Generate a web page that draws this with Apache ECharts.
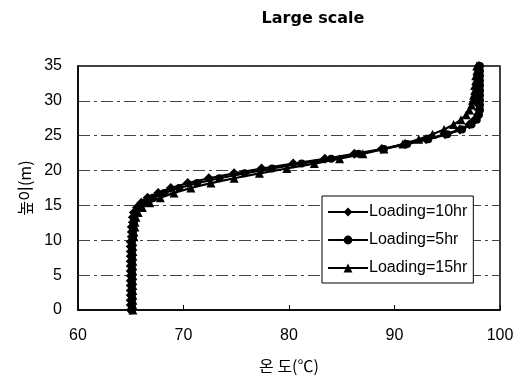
<!DOCTYPE html>
<html>
<head>
<meta charset="utf-8">
<script src="https://cdn.jsdelivr.net/npm/echarts@6/dist/echarts.min.js"></script>
<style>
  html, body { margin: 0; padding: 0; background: #fff; }
  #chart { width: 531px; height: 383px; }
</style>
</head>
<body>
<div id="chart"></div>
<script>
// 높이 (m)
const heights = [0, 0.7, 1.4, 2.1, 2.8, 3.5, 4.2, 4.9, 5.6, 6.3, 7, 7.7, 8.4, 9.1, 9.8, 10.5,
  11.2, 11.9, 12.6, 13.3, 14, 14.7, 15.4, 16.1, 16.8, 17.5, 18.2, 18.9, 19.6, 20.3, 21, 21.7,
  22.4, 23.1, 23.8, 24.5, 25.2, 25.9, 26.6, 27.3, 28, 28.7, 29.4, 30.1, 30.8, 31.5, 32.2, 32.9,
  33.6, 34.3, 35]

// 온도 (℃)
const temp10hr = [65.0, 65.0, 65.0, 65.0, 65.0, 65.0, 65.0, 65.0, 65.0, 65.0, 65.0, 65.0, 65.0, 65.0, 65.0, 65.1,
  65.1, 65.1, 65.2, 65.2, 65.3, 65.6, 66.0, 66.6, 67.6, 68.8, 70.4, 72.4, 74.8, 77.4, 80.4, 83.4,
  86.2, 88.8, 91.0, 93.0, 94.8, 96.2, 97.1, 97.6, 97.9, 98.0, 98.0, 98.0, 98.0, 98.0, 98.0, 98.0,
  98.0, 98.0, 98.0]
const temp5hr = [65.1, 65.1, 65.1, 65.1, 65.1, 65.1, 65.1, 65.1, 65.1, 65.1, 65.1, 65.1, 65.1, 65.1, 65.1, 65.2,
  65.2, 65.2, 65.3, 65.3, 65.5, 65.8, 66.3, 67.1, 68.2, 69.6, 71.3, 73.4, 75.8, 78.4, 81.2, 84.0,
  86.6, 89.0, 91.2, 93.2, 95.0, 96.4, 97.3, 97.8, 98.0, 98.1, 98.1, 98.1, 98.1, 98.1, 98.1, 98.1,
  98.1, 98.1, 98.1]
const temp15hr = [65.2, 65.2, 65.2, 65.2, 65.2, 65.2, 65.2, 65.2, 65.2, 65.2, 65.2, 65.2, 65.2, 65.2, 65.2, 65.3,
  65.3, 65.4, 65.4, 65.5, 65.7, 66.1, 66.8, 67.8, 69.1, 70.7, 72.6, 74.8, 77.2, 79.8, 82.4, 84.8,
  87.0, 89.0, 90.8, 92.3, 93.6, 94.7, 95.6, 96.3, 96.8, 97.1, 97.3, 97.4, 97.5, 97.6, 97.6, 97.7,
  97.7, 97.8, 97.8]

const seriesNames = ['Loading=10hr', 'Loading=5hr', 'Loading=15hr']
const xTicks = [60, 70, 80, 90, 100]
const yTicks = [0, 5, 10, 15, 20, 25, 30, 35]

const pairs = (temps) => temps.map((t, i) => [t, heights[i]])

const chart = echarts.init(document.getElementById('chart'))

const lineSeries = (name, data, symbol, size) => ({
  name,
  type: 'line',
  data: pairs(data),
  symbol,
  symbolSize: size,
  showSymbol: true,
  itemStyle: { color: '#000' },
  lineStyle: { color: '#000', width: 2.2 },
  animation: false
})

chart.setOption({
  backgroundColor: '#fff',
  title: {
    text: 'Large scale',
    left: 308,
    top: 6,
    textAlign: 'center',
    textStyle: { fontFamily: 'DejaVu Sans', fontWeight: 'bold', fontSize: 16, color: '#000' }
  },
  grid: {
    left: 78, right: 31, top: 66, bottom: 73,
    show: true, borderColor: '#000', borderWidth: 1.5, backgroundColor: '#fff'
  },
  legend: {
    orient: 'vertical',
    left: 322, top: 196,
    padding: [8, 6, 7, 5],
    itemGap: 12,
    itemWidth: 40,
    itemHeight: 11,
    backgroundColor: '#fff',
    borderColor: '#000',
    borderWidth: 1,
    borderRadius: 0,
    data: seriesNames.map((n) => ({ name: n, itemStyle: { borderWidth: 0 } })),
    textStyle: { fontFamily: 'Liberation Sans', fontSize: 16, color: '#000', padding: [0, 0, 0, -4] }
  },
  xAxis: {
    type: 'value',
    min: xTicks[0], max: xTicks[xTicks.length - 1], interval: 10,
    name: '온 도(℃)',
    nameLocation: 'middle',
    nameGap: 48,
    nameTextStyle: { fontFamily: 'Noto Sans CJK KR', fontSize: 16, color: '#000' },
    axisLine: { lineStyle: { color: '#000', width: 1.5 } },
    axisTick: { inside: true, length: 5, lineStyle: { color: '#000' } },
    axisLabel: { fontFamily: 'Liberation Sans', fontSize: 16, color: '#000', margin: 18 },
    splitLine: { show: false }
  },
  yAxis: {
    type: 'value',
    min: yTicks[0], max: yTicks[yTicks.length - 1], interval: 5,
    name: '높이(m)',
    nameLocation: 'middle',
    nameGap: 45,
    nameTextStyle: { fontFamily: 'Noto Sans CJK KR', fontSize: 16, color: '#000' },
    axisLine: { lineStyle: { color: '#000', width: 1.5 } },
    axisTick: { show: false },
    axisLabel: { fontFamily: 'Liberation Sans', fontSize: 16, color: '#000', margin: 16 },
    splitLine: { show: true, lineStyle: { color: '#444', width: 1, type: [12, 4, 3, 4] } }
  },
  series: [
    lineSeries(seriesNames[0], temp10hr, 'diamond', 10),
    lineSeries(seriesNames[1], temp5hr, 'circle', 8),
    lineSeries(seriesNames[2], temp15hr, 'triangle', 9)
  ]
})
</script>
</body>
</html>
